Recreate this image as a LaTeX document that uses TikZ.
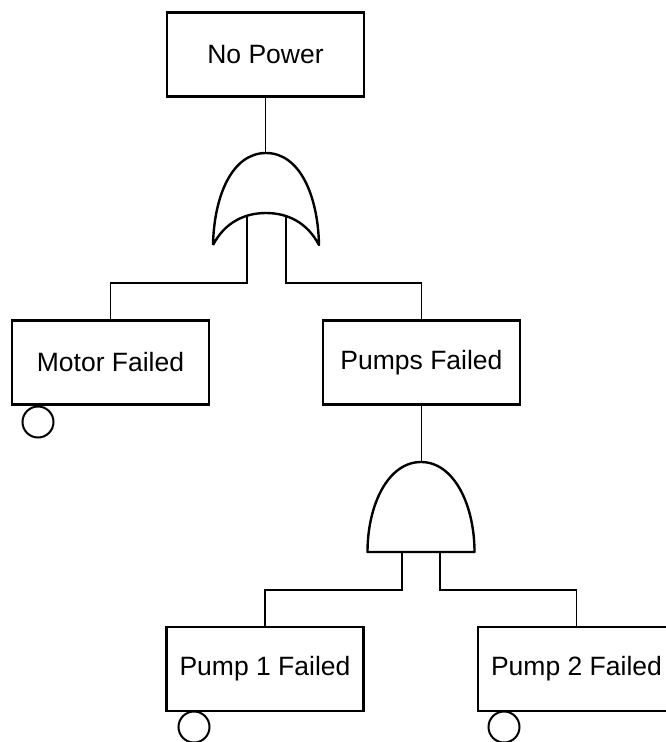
\documentclass[tikz,border=0pt]{standalone}
\usepackage{fontspec}
\setmainfont{Liberation Sans}
\begin{document}
\begin{tikzpicture}[x=1pt,y=-1pt,
  event/.style={draw, line width=2.4pt, minimum width=197pt, minimum height=84pt, inner sep=0pt,
    font=\fontsize{26.5}{30}\selectfont, fill=white},
  conn/.style={line width=1.3pt},
  gate/.style={line width=2.4pt, line join=round},
  basic/.style={draw, circle, line width=2pt, minimum size=31pt, inner sep=0pt}]
\useasboundingbox (0,0) rectangle (666,742);
\clip (0,0) rectangle (666,742);
% events
\node[event] (np) at (265.5,54.5) {No Power};
\node[event] (mf) at (110.5,362.5) {Motor Failed};
\node[event] (pf) at (421.5,362.5) {Pumps Failed};
\node[event] (p1) at (265,669) {Pump 1 Failed};
\node[event] (p2) at (576.5,669) {Pump 2 Failed};
% basic event circles
\node[basic] (c0) at (38,422) {};
\node[basic] (c1) at (194,727) {};
\node[basic] (c2) at (504,727) {};
% OR gate
\coordinate (ortop) at (266,153);
\coordinate (orL) at (247,216.5);
\coordinate (orR) at (286,216.5);
\draw[gate] (213,245) .. controls (214,196) and (232,153) .. (ortop)
  .. controls (300,153) and (318,196) .. (319,245)
  .. controls (307,222) and (287,213) .. (266,213)
  .. controls (245,213) and (225,222) .. (213,245);
% AND gate
\coordinate (andtop) at (421,462);
\coordinate (andL) at (402,552);
\coordinate (andR) at (440,552);
\draw[gate] (367.5,552) .. controls (367.5,505) and (388,462) .. (andtop)
  .. controls (454,462) and (474.5,505) .. (474.5,552) -- cycle;
% connectors
\draw[conn] (np.south) -- (np.south |- ortop);
\draw[conn] (orL) -- (247,283) -| (mf.north);
\draw[conn] (orR) -- (286,283) -| (pf.north);
\draw[conn] (pf.south) -- (pf.south |- andtop);
\draw[conn] (andL) -- (402,590) -| (p1.north);
\draw[conn] (andR) -- (440,590) -| (p2.north);
\end{tikzpicture}
\end{document}
